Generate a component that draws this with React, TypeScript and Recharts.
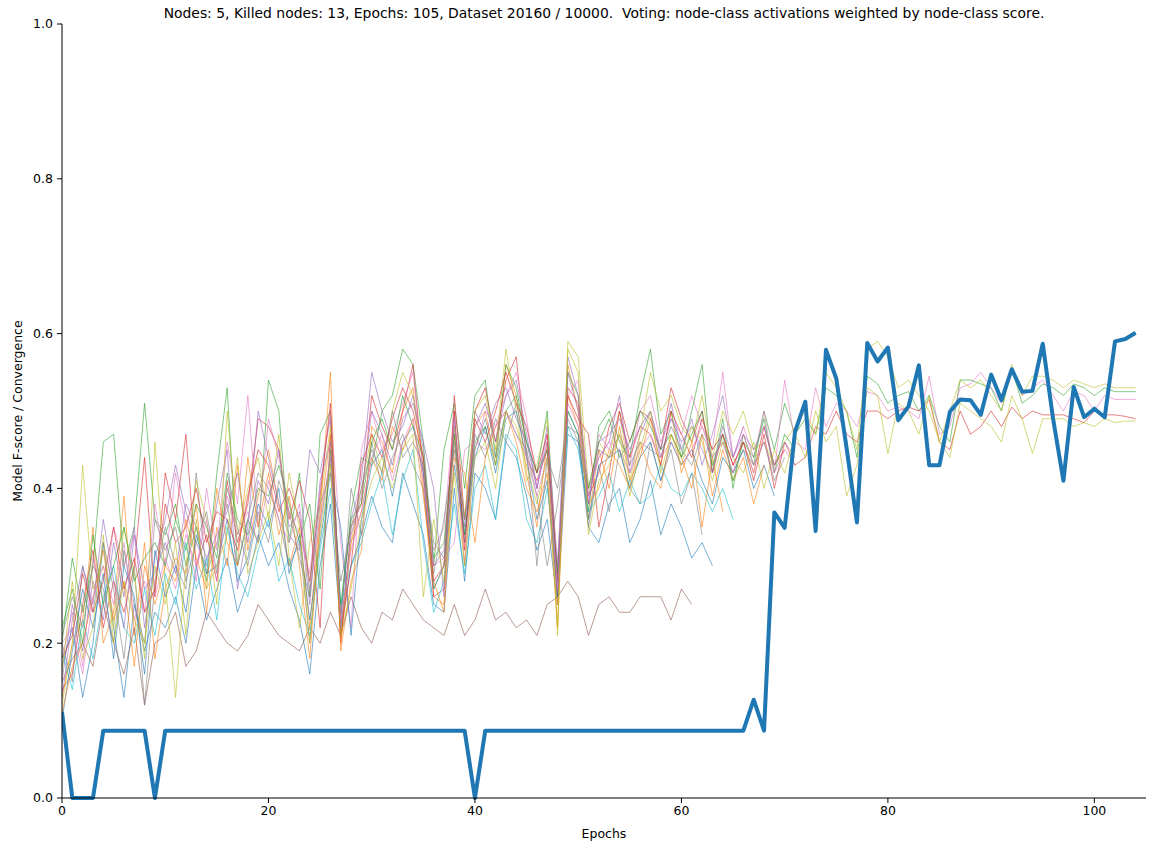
import React from "react";
import { LineChart, Line, XAxis, YAxis } from "recharts";

const epochs: number[] = Array.from({ length: 105 }, (_, i) => i);

const convergence: number[] = [
  0.111, 0, 0, 0, 0.087, 0.087, 0.087, 0.087, 0.087, 0,
  0.087, 0.087, 0.087, 0.087, 0.087, 0.087, 0.087, 0.087, 0.087, 0.087,
  0.087, 0.087, 0.087, 0.087, 0.087, 0.087, 0.087, 0.087, 0.087, 0.087,
  0.087, 0.087, 0.087, 0.087, 0.087, 0.087, 0.087, 0.087, 0.087, 0.087,
  0, 0.087, 0.087, 0.087, 0.087, 0.087, 0.087, 0.087, 0.087, 0.087,
  0.087, 0.087, 0.087, 0.087, 0.087, 0.087, 0.087, 0.087, 0.087, 0.087,
  0.087, 0.087, 0.087, 0.087, 0.087, 0.087, 0.087, 0.127, 0.087, 0.369,
  0.349, 0.473, 0.512, 0.345, 0.579, 0.542, 0.452, 0.356, 0.588, 0.564,
  0.582, 0.488, 0.506, 0.559, 0.43, 0.43, 0.499, 0.515, 0.514, 0.495,
  0.547, 0.514, 0.554, 0.525, 0.526, 0.587, 0.49, 0.41, 0.531, 0.492,
  0.503, 0.492, 0.59, 0.593, 0.601,
];

const nodeA: number[] = [
  .12,.2,.43,.27,.3,.22,.35,.29,.18,.46,
  .28,.13,.3,.41,.36,.25,.5,.34,.4,.44,
  .36,.47,.31,.22,.33,.38,.48,.22,.33,.4,
  .47,.42,.5,.55,.52,.44,.27,.3,.48,.36,
  .5,.52,.45,.58,.5,.41,.43,.49,.21,.59,
  .57,.4,.46,.44,.5,.41,.47,.55,.5,.52,
  .48,.46,.52,.44,.5,.47,.5,.45,.46,.43,.46,.48,
  .5,.47,.55,.53,.5,.45,.58,.59,.57,.53,.54,.52,.5,.46,.5,.54,.53,.54,
  .52,.5,.56,.52,.545,.545,.54,.53,.54,.535,.53,.535,.53,.53,.53,
];
const nodeB: number[] = [
  .2,.31,.24,.3,.46,.47,.3,.35,.51,.36,
  .34,.38,.3,.35,.28,.42,.53,.3,.36,.33,
  .54,.5,.33,.42,.26,.47,.5,.23,.37,.44,
  .43,.5,.52,.58,.56,.46,.3,.45,.51,.4,
  .52,.54,.44,.56,.53,.46,.42,.5,.28,.55,
  .52,.37,.48,.5,.46,.44,.52,.58,.47,.5,
  .44,.5,.56,.42,.49,.4,.47,.43,.5,.45,.51,.47,
  .49,.47,.53,.52,.5,.44,.545,.535,.51,.52,.525,.5,.52,.48,.46,.54,.54,.535,
  .53,.5,.555,.51,.52,.535,.53,.52,.535,.53,.52,.53,.525,.525,.525,
];
const nodeC: number[] = [
  .18,.24,.17,.31,.25,.35,.3,.34,.24,.38,
  .3,.42,.35,.28,.4,.32,.46,.38,.52,.35,
  .49,.44,.37,.34,.29,.4,.5,.33,.22,.45,
  .5,.45,.47,.51,.55,.42,.32,.35,.5,.3,
  .45,.5,.48,.52,.55,.49,.4,.47,.3,.52,
  .54,.38,.47,.45,.5,.43,.5,.52,.46,.49,
  .47,.52,.48,.45,.55,.44,.48,.44,.5,.42,.54,.46,
  .45,.53,.48,.51,.5,.48,.525,.52,.5,.505,.5,.49,.545,.47,.48,.53,.535,.55,
  .53,.51,.555,.52,.53,.54,.52,.5,.525,.52,.5,.52,.515,.515,.515,
];
const nodeD: number[] = [
  .14,.16,.25,.32,.22,.28,.24,.3,.44,.26,
  .42,.36,.47,.3,.34,.28,.41,.33,.38,.49,
  .48,.45,.36,.41,.36,.22,.47,.2,.35,.38,
  .52,.48,.45,.5,.56,.42,.26,.27,.52,.36,
  .5,.53,.46,.54,.57,.44,.41,.45,.26,.53,
  .51,.39,.42,.48,.51,.46,.5,.49,.45,.53,
  .49,.46,.5,.42,.47,.43,.46,.41,.47,.4,.46,.43,
  .44,.48,.47,.5,.47,.46,.5,.5,.49,.5,.505,.5,.515,.46,.45,.5,.47,.48,
  .5,.48,.505,.49,.5,.495,.495,.495,.49,.485,.5,.495,.495,.493,.49,
];
const nodeE: number[] = [
  .16,.28,.18,.22,.34,.2,.28,.23,.2,.3,
  .25,.33,.21,.36,.27,.3,.34,.44,.29,.33,
  .37,.3,.42,.35,.2,.34,.43,.21,.27,.36,
  .41,.44,.4,.45,.47,.26,.36,.28,.42,.3,
  .44,.46,.4,.5,.48,.43,.38,.44,.22,.58,
  .55,.34,.41,.43,.47,.39,.45,.5,.42,.47,
  .43,.48,.46,.41,.46,.44,.42,.46,.4,.45,.42,.47,
  .44,.5,.46,.48,.39,.43,.53,.52,.445,.51,.5,.47,.52,.46,.44,.51,.5,.49,
  .48,.46,.52,.49,.445,.49,.49,.49,.48,.485,.48,.49,.485,.487,.487,
];
const nodeF: number[] = [
  .15,.18,.2,.17,.25,.2,.16,.22,.12,.2,
  .21,.24,.17,.19,.24,.22,.2,.19,.21,.25,
  .23,.21,.2,.19,.22,.2,.24,.21,.26,.22,
  .2,.24,.23,.27,.25,.23,.22,.21,.25,.21,
  .23,.27,.23,.24,.22,.23,.21,.25,.26,.28,
  .26,.21,.25,.26,.24,.24,.26,.26,.26,.23,
  .27,.25,
];
const nodeG: number[] = [
  .2,.15,.3,.24,.33,.27,.18,.3,.12,.28,
  .35,.3,.27,.42,.29,.33,.38,.3,.36,.42,
  .4,.36,.3,.33,.2,.35,.44,.23,.4,.34,
  .46,.4,.44,.47,.43,.4,.29,.36,.45,.33,
  .47,.44,.49,.46,.51,.45,.39,.3,.38,.48,
  .47,.35,.43,.37,.45,.4,.38,.46,.41,.45,
  .38,.42,.34,
];
const nodeH: number[] = [
  .17,.22,.13,.2,.33,.22,.13,.25,.19,.24,
  .22,.26,.2,.3,.23,.27,.31,.24,.28,.34,
  .3,.33,.27,.23,.16,.3,.38,.22,.3,.34,
  .39,.35,.33,.42,.38,.34,.25,.24,.4,.28,
  .42,.4,.36,.46,.44,.39,.32,.36,.25,.47,
  .46,.35,.33,.38,.4,.33,.36,.41,.34,.38,
  .35,.31,.33,.3,
];
const nodeI: number[] = [
  .13,.2,.23,.35,.2,.24,.39,.21,.33,.18,
  .27,.31,.29,.38,.24,.35,.3,.43,.32,.39,
  .45,.38,.3,.35,.22,.37,.55,.19,.28,.32,
  .48,.46,.42,.5,.53,.4,.26,.25,.47,.3,
  .48,.5,.43,.56,.52,.42,.35,.46,.25,.56,
  .5,.36,.45,.4,.48,.41,.44,.49,.43,.5,
  .42,.46,.35,.44,.37,
];
const nodeJ: number[] = [
  .19,.14,.23,.18,.26,.3,.22,.2,.27,.21,
  .29,.25,.33,.27,.31,.23,.35,.29,.26,.32,
  .36,.28,.31,.25,.21,.32,.4,.25,.3,.33,
  .38,.42,.34,.41,.45,.33,.24,.28,.38,.29,
  .4,.43,.36,.47,.45,.36,.33,.4,.29,.48,
  .45,.37,.39,.42,.37,.41,.38,.39,.43,.4,
  .39,.42,.4,.37,.4,.36,
];
const nodeK: number[] = [
  .15,.25,.19,.28,.23,.33,.26,.35,.22,.31,
  .36,.43,.37,.33,.3,.38,.45,.27,.35,.5,
  .44,.38,.34,.32,.45,.42,.49,.24,.36,.41,
  .55,.5,.46,.48,.52,.45,.3,.32,.48,.33,
  .5,.47,.51,.53,.49,.46,.4,.48,.3,.57,
  .52,.4,.44,.46,.52,.42,.47,.5,.45,.51,
  .45,.49,.43,.47,.52,.44,.48,
];
const nodeL: number[] = [
  .11,.17,.2,.26,.32,.23,.28,.17,.3,.25,
  .3,.28,.36,.31,.27,.4,.33,.3,.44,.35,
  .42,.34,.39,.3,.18,.36,.47,.2,.33,.37,
  .44,.41,.48,.45,.49,.39,.28,.24,.44,.42,
  .33,.44,.48,.5,.46,.4,.37,.42,.22,.52,
  .48,.38,.4,.45,.43,.4,.46,.42,.4,.47,
  .44,.4,.47,.39,.45,.41,.44,.38,.43,
];
const nodeM: number[] = [
  .1,.19,.27,.22,.29,.18,.3,.26,.16,.32,
  .26,.3,.24,.34,.29,.3,.36,.28,.31,.38,
  .35,.4,.29,.34,.23,.33,.42,.35,.21,.36,
  .43,.45,.39,.46,.48,.42,.27,.3,.43,.34,
  .44,.48,.42,.49,.5,.44,.36,.41,.26,.5,
  .47,.36,.43,.44,.45,.4,.44,.46,.41,.46,
  .43,.45,.41,.38,.44,.42,.45,.4,.43,.39,
];
const nodeN: number[] = [
  .21,.26,.22,.3,.27,.2,.32,.25,.2,.36,
  .32,.35,.28,.33,.37,.29,.4,.35,.3,.37,
  .33,.41,.37,.31,.26,.38,.42,.28,.35,.4,
  .45,.42,.5,.44,.46,.43,.33,.31,.46,.36,
  .45,.49,.44,.5,.47,.45,.3,.44,.4,.49,
  .46,.39,.45,.44,.47,.43,.46,.45,.44,.48,
  .45,.43,.47,.44,.46,.42,.45,.43,.46,.41,.44,
];
const nodeO: number[] = [
  .13,.23,.3,.25,.36,.28,.22,.34,.27,.29,
  .33,.29,.38,.35,.31,.34,.37,.42,.33,.41,
  .38,.45,.35,.37,.25,.41,.46,.22,.34,.39,
  .5,.47,.43,.49,.51,.46,.4,.26,.49,.35,
  .48,.51,.46,.52,.54,.47,.4,.46,.27,.55,
  .5,.38,.46,.47,.49,.45,.48,.5,.44,.49,
  .46,.48,.45,.42,.48,.44,.47,.45,.48,.43,.46,.44,
];
const nodeP: number[] = [
  .18,.21,.29,.24,.28,.35,.27,.31,.24,.27,
  .38,.33,.35,.4,.33,.37,.36,.32,.39,.45,
  .43,.37,.4,.36,.28,.39,.51,.21,.3,.43,
  .47,.44,.49,.53,.5,.44,.28,.3,.5,.32,
  .49,.46,.5,.55,.51,.48,.42,.47,.28,.52,
  .49,.47,.35,.42,.5,.44,.48,.47,.43,.5,
  .47,.44,.49,.45,.47,.43,.46,.42,.48,.43,.45,
];
const nodeQ: number[] = [
  .22,.27,.2,.34,.25,.3,.35,.28,.31,.33,
  .3,.36,.32,.38,.35,.31,.42,.36,.34,.4,
  .39,.43,.38,.33,.38,.27,.45,.25,.36,.38,
  .46,.49,.45,.52,.48,.44,.31,.33,.47,.34,
  .46,.48,.43,.5,.52,.46,.42,.45,.29,.5,
  .47,.4,.46,.49,.44,.46,.5,.48,.45,.47,
  .44,.47,.5,.43,.47,.41,.46,.44,.49,.42,.47,.45,
];
const nodeR: number[] = [
  .2,.22,.16,.26,.3,.25,.33,.23,.28,.26,
  .31,.27,.34,.3,.36,.28,.39,.34,.37,.33,
  .41,.36,.33,.38,.27,.36,.44,.23,.32,.37,
  .44,.47,.41,.46,.49,.41,.3,.31,.33,.45,
  .46,.45,.48,.5,.47,.44,.39,.44,.27,.51,
  .48,.39,.44,.46,.45,.42,.45,.47,.44,.46,
  .43,.45,.48,.44,.46,.42,.47,.43,.46,.42,.45,.43,
];

const nodeSeries: { key: string; values: number[]; color: string }[] = [
  { key: "nH", values: nodeH, color: "#1f77b4" },
  { key: "nI", values: nodeI, color: "#ff7f0e" },
  { key: "nB", values: nodeB, color: "#2ca02c" },
  { key: "nD", values: nodeD, color: "#d62728" },
  { key: "nK", values: nodeK, color: "#9467bd" },
  { key: "nF", values: nodeF, color: "#8c564b" },
  { key: "nC", values: nodeC, color: "#e377c2" },
  { key: "nG", values: nodeG, color: "#7f7f7f" },
  { key: "nA", values: nodeA, color: "#bcbd22" },
  { key: "nJ", values: nodeJ, color: "#17becf" },
  { key: "nM", values: nodeM, color: "#1f77b4" },
  { key: "nL", values: nodeL, color: "#ff7f0e" },
  { key: "nQ", values: nodeQ, color: "#2ca02c" },
  { key: "nP", values: nodeP, color: "#d62728" },
  { key: "nO", values: nodeO, color: "#9467bd" },
  { key: "nN", values: nodeN, color: "#7f7f7f" },
  { key: "nR", values: nodeR, color: "#e377c2" },
  { key: "nE", values: nodeE, color: "#bcbd22" },
];

const xTicks: number[] = [0, 20, 40, 60, 80, 100];
const yTicks: number[] = [0, 0.2, 0.4, 0.6, 0.8, 1.0];

const titleText =
  "Nodes: 5, Killed nodes: 13, Epochs: 105, Dataset 20160 / 10000.  Voting: node-class activations weighted by node-class score.";

const data = epochs.map((e) => {
  const row: Record<string, number | undefined> = { epoch: e, conv: convergence[e] };
  nodeSeries.forEach((s) => {
    row[s.key] = s.values[e];
  });
  return row;
});

const FONT = "'DejaVu Sans', sans-serif";
const tickStyle = { fill: "#000", fontSize: 12.5, fontFamily: FONT };

export default function App() {
  return (
    <div style={{ position: "absolute", left: 0, top: 0, width: 1159, height: 851, background: "#fff" }}>
      <LineChart
        width={1159}
        height={851}
        data={data}
        margin={{ top: 24, right: 13, bottom: 0, left: 0 }}
      >
        <XAxis
          dataKey="epoch"
          type="number"
          domain={[0, 105]}
          ticks={xTicks}
          allowDataOverflow
          height={53}
          tickSize={5}
          tickMargin={3}
          tick={tickStyle}
          axisLine={{ stroke: "#000", strokeWidth: 1 }}
          tickLine={{ stroke: "#000", strokeWidth: 1 }}
        />
        <XAxis
          xAxisId="top"
          orientation="top"
          dataKey="epoch"
          type="number"
          domain={[0, 105]}
          height={0}
          tick={false}
          tickLine={false}
          axisLine={{ stroke: "#000", strokeWidth: 1 }}
        />
        <YAxis
          type="number"
          domain={[0, 1]}
          ticks={yTicks}
          width={62}
          tickSize={5}
          tickMargin={4}
          tick={tickStyle}
          tickFormatter={(v: number) => v.toFixed(1)}
          axisLine={{ stroke: "#000", strokeWidth: 1 }}
          tickLine={{ stroke: "#000", strokeWidth: 1 }}
        />
        <YAxis
          yAxisId="right"
          orientation="right"
          type="number"
          domain={[0, 1]}
          width={0}
          tick={false}
          tickLine={false}
          axisLine={{ stroke: "#000", strokeWidth: 1 }}
        />
        {nodeSeries.map((s) => (
          <Line
            key={s.key}
            dataKey={s.key}
            type="linear"
            stroke={s.color}
            strokeWidth={0.7}
            strokeOpacity={0.85}
            dot={false}
            activeDot={false}
            isAnimationActive={false}
          />
        ))}
        <Line
          dataKey="conv"
          type="linear"
          stroke="#1f77b4"
          strokeWidth={4}
          strokeLinejoin="round"
          dot={false}
          activeDot={false}
          isAnimationActive={false}
        />
      </LineChart>
      <div
        style={{
          position: "absolute",
          left: 62,
          width: 1084,
          top: 5,
          textAlign: "center",
          fontFamily: FONT,
          fontSize: 13.9,
          color: "#000",
          whiteSpace: "pre",
        }}
      >
        {titleText}
      </div>
      <div
        style={{
          position: "absolute",
          left: 62,
          width: 1084,
          top: 826,
          textAlign: "center",
          fontFamily: FONT,
          fontSize: 12.5,
          color: "#000",
        }}
      >
        Epochs
      </div>
      <div
        style={{
          position: "absolute",
          left: 17,
          top: 411,
          transform: "translate(-50%, -50%) rotate(-90deg)",
          fontFamily: FONT,
          fontSize: 12.5,
          color: "#000",
          whiteSpace: "nowrap",
        }}
      >
        Model F-score / Convergence
      </div>
    </div>
  );
}
